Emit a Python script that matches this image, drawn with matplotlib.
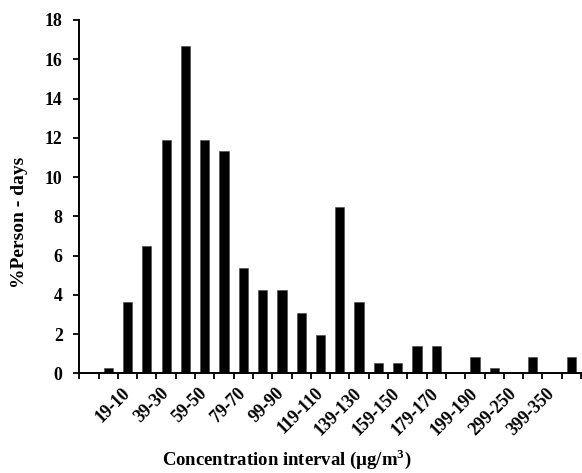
import matplotlib.pyplot as plt
import numpy as np

# concentration intervals (first slot has no label in the original)
categories = ["", "9-0", "19-10", "29-20", "39-30", "49-40", "59-50", "69-60",
              "79-70", "89-80", "99-90", "109-100", "119-110", "129-120",
              "139-130", "149-140", "159-150", "169-160", "179-170", "189-180",
              "199-190", "249-200", "299-250", "349-300", "399-350", ">400"]
person_days = [0, 0.28, 3.65, 6.5, 11.87, 16.69, 11.87, 11.31, 5.35, 4.23,
               4.23, 3.09, 1.95, 8.49, 3.65, 0.55, 0.55, 1.39, 1.39, 0,
               0.84, 0.28, 0, 0.84, 0, 0.84]
y_ticks = list(range(0, 19, 2))

plt.rcParams['font.family'] = ['Liberation Serif', 'DejaVu Serif']
plt.rcParams['font.weight'] = 'bold'
plt.rcParams['mathtext.fontset'] = 'custom'
plt.rcParams['mathtext.bf'] = 'Liberation Serif:bold'
plt.rcParams['mathtext.rm'] = 'Liberation Serif:bold'

fig = plt.figure(figsize=(5.82, 4.73), dpi=100)
ax = fig.add_axes([79.3 / 582, 1 - 373.3 / 473, (581 - 79.3) / 582, (373.3 - 20) / 473])

x = np.arange(len(categories))
ax.bar(x, person_days, width=0.48, color='black', edgecolor='#444444', linewidth=0.4)

ax.set_xlim(-0.5, len(categories) - 0.5)
ax.set_ylim(0, 18)
ax.set_yticks(y_ticks)
ax.set_yticklabels([str(v) for v in y_ticks], fontsize=12.8, fontweight='bold')

# labels at category centres (every other one), tick marks between categories
ax.set_xticks(x)
ax.set_xticklabels([c if i % 2 == 0 else '' for i, c in enumerate(categories)],
                   rotation=45, ha='right', va='center', rotation_mode='anchor',
                   fontsize=12.8, fontweight='bold')
ax.tick_params(axis='x', which='major', length=0, pad=12.6)
ax.set_xticks(np.arange(-0.5, len(categories), 1), minor=True)
ax.tick_params(axis='x', which='minor', length=4, width=1.3, direction='out')
ax.tick_params(axis='y', length=4, width=1.3, direction='out', pad=8)

for s in ['top', 'right']:
    ax.spines[s].set_visible(False)
for s in ['left', 'bottom']:
    ax.spines[s].set_linewidth(1.4)

fig.text(287 / 582, 1 - 459 / 473, r'Concentration interval (µg/m$^{\mathbf{3}}$)',
         ha='center', va='center', fontsize=13.5, fontweight='bold')
fig.text(20 / 582, 1 - 222 / 473, '%Person - days', rotation=90,
         ha='center', va='center', fontsize=14, fontweight='bold')

fig.savefig('out.png', dpi=100)
